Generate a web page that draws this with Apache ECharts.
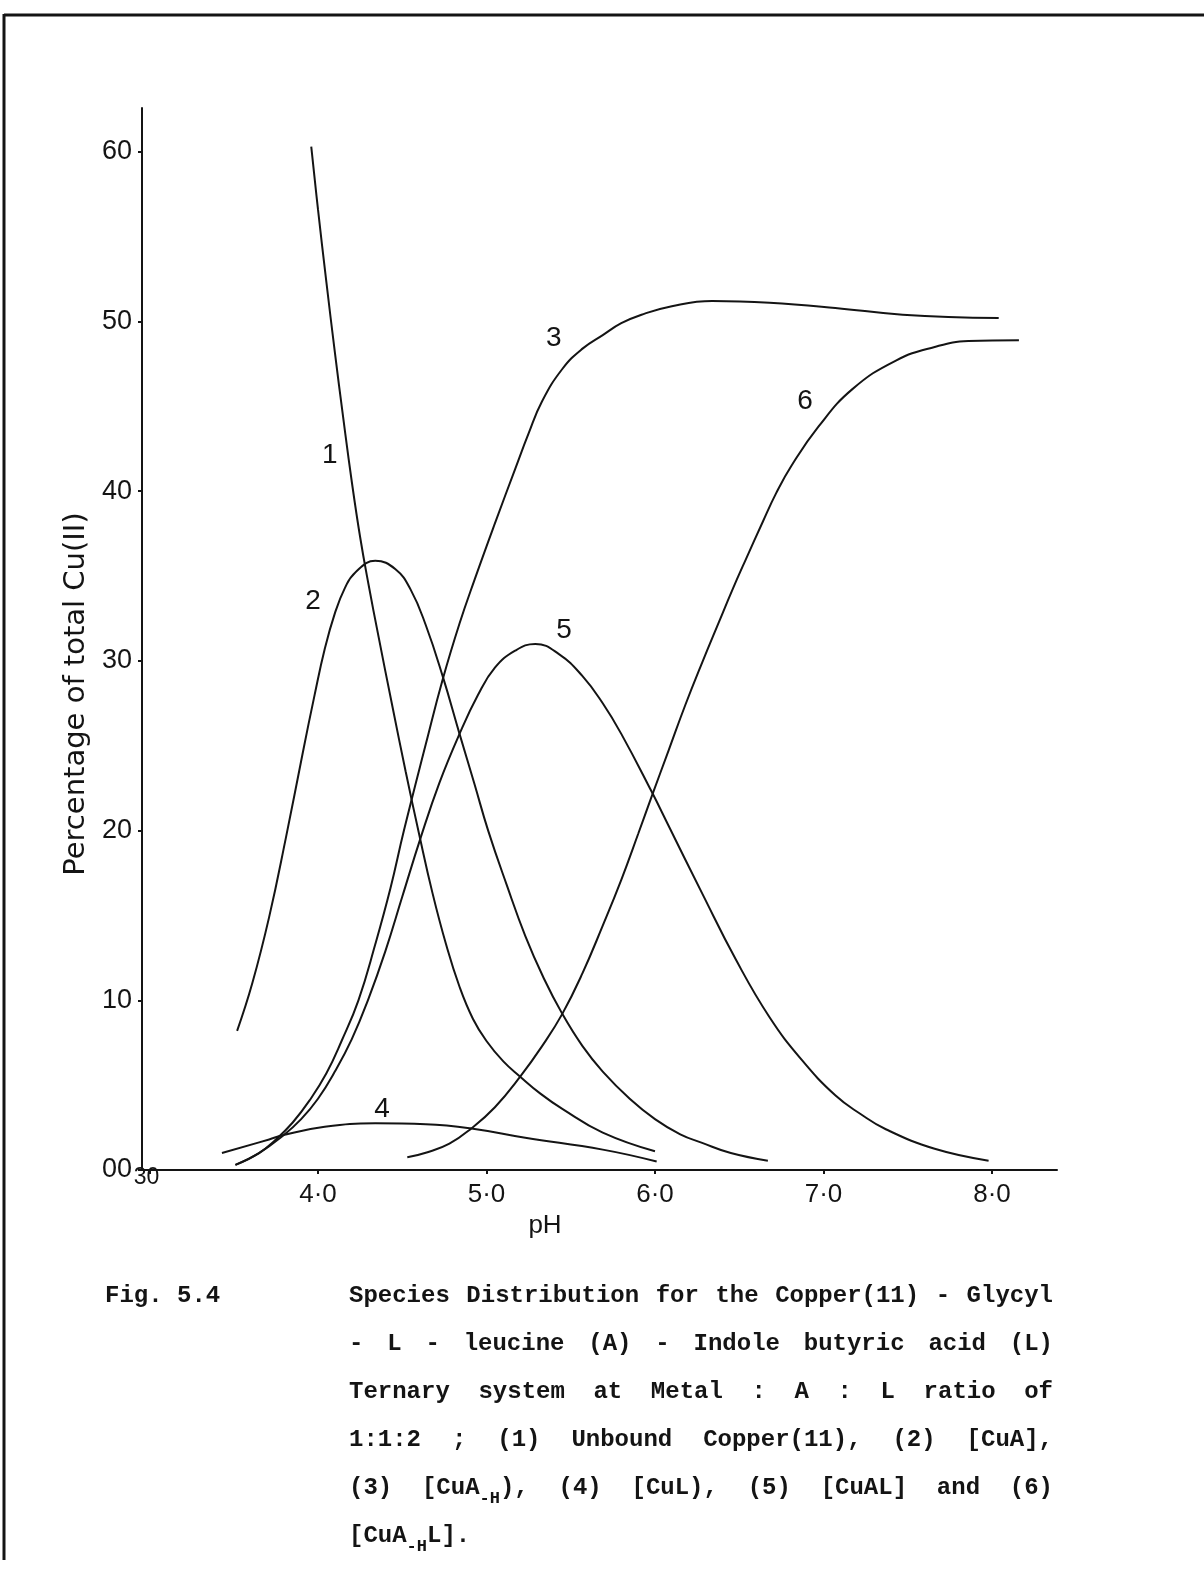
<!DOCTYPE html>
<html>
<head>
<meta charset="utf-8">
<title>Species distribution Cu(II) - Glycyl-L-leucine - Indole butyric acid</title>
<script src="https://cdn.jsdelivr.net/npm/echarts@6/dist/echarts.min.js"></script>
<style>
  html, body { margin: 0; padding: 0; background: #fff; }
  #main { width: 1204px; height: 1581px; }
</style>
</head>
<body>
<div id="main"></div>
<script>
// values: [pH, % of total Cu(II)]
var curve1 = [[3.96,60.3],[4.00,56.6],[4.05,52.3],[4.10,48.2],[4.15,44.3],[4.20,40.6],[4.25,37.3],
  [4.30,34.5],[4.36,31.4],[4.44,27.4],[4.52,23.5],[4.60,19.8],[4.68,16.3],[4.76,13.3],[4.84,10.8],
  [4.92,8.9],[5.00,7.6],[5.10,6.4],[5.20,5.5],[5.32,4.5],[5.45,3.6],[5.69,2.2],[6.00,1.1]];
var curve2 = [[3.52,8.2],[3.61,11.0],[3.71,14.9],[3.81,19.6],[3.91,24.6],[3.98,28.0],[4.04,30.7],
  [4.10,32.8],[4.16,34.3],[4.22,35.2],[4.34,35.9],[4.46,35.4],[4.55,34.2],[4.64,32.1],[4.74,29.1],
  [4.84,25.7],[4.93,22.7],[5.01,20.0],[5.12,16.8],[5.23,13.8],[5.34,11.3],[5.45,9.2],[5.57,7.3],
  [5.69,5.8],[5.85,4.2],[6.00,3.0],[6.15,2.1],[6.28,1.6],[6.45,1.0],[6.67,0.55]];
var curve3 = [[3.51,0.3],[3.65,1.0],[3.75,1.8],[3.85,2.8],[3.95,4.1],[4.05,5.7],[4.14,7.6],[4.24,10.0],
  [4.34,13.3],[4.43,16.6],[4.51,20.0],[4.64,25.1],[4.74,28.9],[4.84,32.2],[4.93,34.8],[5.05,38.1],
  [5.17,41.3],[5.25,43.4],[5.33,45.3],[5.45,47.2],[5.57,48.4],[5.69,49.2],[5.80,49.9],[5.92,50.4],
  [6.10,50.9],[6.34,51.2],[6.68,51.1],[7.07,50.8],[7.47,50.4],[8.04,50.2]];
var curve4 = [[3.43,1.0],[3.71,1.8],[3.79,2.05],[4.04,2.55],[4.34,2.75],[4.64,2.7],[4.91,2.45],
  [5.23,1.9],[5.69,1.2],[6.01,0.5]];
var curve5 = [[3.51,0.3],[3.65,1.0],[3.79,2.0],[3.90,3.0],[4.00,4.2],[4.10,5.8],[4.20,7.7],[4.30,10.1],
  [4.40,12.9],[4.50,16.1],[4.61,19.6],[4.72,22.8],[4.84,25.7],[4.95,28.0],[5.05,29.6],[5.17,30.6],
  [5.29,31.0],[5.43,30.4],[5.57,29.1],[5.69,27.5],[5.80,25.7],[5.98,22.3],[6.08,20.3],[6.28,16.3],
  [6.48,12.4],[6.68,9.0],[6.87,6.5],[7.07,4.4],[7.22,3.3],[7.37,2.4],[7.66,1.25],[7.98,0.55]];
var curve6 = [[4.53,0.75],[4.65,1.05],[4.78,1.55],[4.91,2.45],[5.05,3.7],[5.20,5.5],[5.33,7.3],
  [5.45,9.2],[5.57,11.6],[5.69,14.4],[5.80,17.1],[5.90,19.8],[5.98,22.0],[6.08,24.7],[6.18,27.4],
  [6.28,29.9],[6.38,32.3],[6.46,34.2],[6.54,36.0],[6.64,38.2],[6.72,39.9],[6.81,41.5],[6.97,43.8],
  [7.17,46.0],[7.43,47.7],[7.66,48.5],[7.86,48.85],[8.16,48.9]];

// curve numbers, placed in data coordinates
var curveLabels = [[4.07,42.1,'1'],[3.97,33.5,'2'],[5.40,49.0,'3'],[4.38,3.6,'4'],[5.46,31.8,'5'],[6.89,45.3,'6']];

var xTicks = [3, 4, 5, 6, 7, 8];
var yTicks = [0, 10, 20, 30, 40, 50, 60];

var figLabel = 'Fig. 5.4';
// _{...} marks a subscript
var captionLines = [
  ['Species','Distribution','for','the','Copper(11)','-','Glycyl'],
  ['-','L','-','leucine','(A)','-','Indole','butyric','acid','(L)'],
  ['Ternary','system','at','Metal',':','A',':','L','ratio','of'],
  ['1:1:2',';','(1)','Unbound','Copper(11),','(2)','[CuA],'],
  ['(3)','[CuA_{-H}),','(4)','[CuL),','(5)','[CuAL]','and','(6)'],
  ['[CuA_{-H}L].']
];

var ink = '#141414';
var myChart = echarts.init(document.getElementById('main'));

function lineSeries(d) {
  return {
    type: 'line', data: d, smooth: 0.45, showSymbol: false, silent: true,
    lineStyle: { color: ink, width: 2 }
  };
}

// caption, justified like the typed original
var monoFont = 'Liberation Mono, DejaVu Sans Mono, monospace';
var fs = 24, cw = fs * 0.6, fsSub = 17, cwSub = fsSub * 0.6;
var capLeft = 349, capRight = 1053, capTop = 1296, capStep = 48;

function parseWord(w) {
  var segs = [], re = /_\{(.*?)\}/g, last = 0, m;
  while ((m = re.exec(w)) !== null) {
    if (m.index > last) segs.push({ t: w.slice(last, m.index), sub: false });
    segs.push({ t: m[1], sub: true });
    last = re.lastIndex;
  }
  if (last < w.length) segs.push({ t: w.slice(last), sub: false });
  return segs;
}
function segWidth(s) { return s.t.length * (s.sub ? cwSub : cw); }

var graphics = [
  { type: 'line', shape: { x1: 4, y1: 15, x2: 1204, y2: 15 }, style: { stroke: ink, lineWidth: 3 } },
  { type: 'line', shape: { x1: 4, y1: 14, x2: 4, y2: 1560 }, style: { stroke: ink, lineWidth: 3 } },
  { type: 'text', x: 105, y: capTop, style: { text: figLabel, font: 'bold ' + fs + 'px ' + monoFont, fill: ink, verticalAlign: 'middle' } }
];

captionLines.forEach(function (words, li) {
  var parsed = words.map(parseWord);
  var widths = parsed.map(function (segs) { return segs.reduce(function (a, s) { return a + segWidth(s); }, 0); });
  var total = widths.reduce(function (a, b) { return a + b; }, 0);
  var last = li === captionLines.length - 1;
  var gap = (last || words.length < 2) ? cw : (capRight - capLeft - total) / (words.length - 1);
  var x = capLeft, y = capTop + li * capStep;
  parsed.forEach(function (segs) {
    segs.forEach(function (s) {
      graphics.push({
        type: 'text', x: x, y: s.sub ? y + 11 : y,
        style: { text: s.t, font: 'bold ' + (s.sub ? fsSub : fs) + 'px ' + monoFont, fill: ink, verticalAlign: 'middle' }
      });
      x += segWidth(s);
    });
    x += gap;
  });
});

var option = {
  animation: false,
  backgroundColor: '#fff',
  grid: { left: 142, right: 147, top: 108, bottom: 411 },
  xAxis: {
    type: 'value', min: 2.9555, max: 8.386,
    name: 'pH', nameLocation: 'middle', nameGap: 32,
    nameTextStyle: { fontFamily: 'Liberation Sans', fontSize: 26, color: ink, padding: [0, 109, 0, 0] },
    axisLine: { lineStyle: { color: ink, width: 2 } },
    axisTick: { show: true, customValues: xTicks, length: 4, lineStyle: { color: ink, width: 2 } },
    axisLabel: {
      customValues: xTicks, margin: 12, fontFamily: 'Liberation Sans', fontSize: 26, color: ink,
      formatter: function (v) { return v === 3 ? '' : (v + '\u00b70'); }
    },
    splitLine: { show: false }
  },
  yAxis: {
    type: 'value', min: 0, max: 62.58,
    name: 'Percentage of total Cu(II)', nameLocation: 'middle', nameGap: 50, nameRotate: 90,
    nameTextStyle: { fontFamily: 'DejaVu Sans', fontSize: 29, color: ink, padding: [0, 110, 0, 0] },
    axisLine: { lineStyle: { color: ink, width: 2 } },
    axisTick: { show: true, customValues: yTicks, length: 4, lineStyle: { color: ink, width: 2 } },
    axisLabel: {
      customValues: yTicks, margin: 10, fontFamily: 'Liberation Sans', fontSize: 27, color: ink,
      formatter: function (v) { return v === 0 ? '00' : String(v); }
    },
    splitLine: { show: false }
  },
  series: [
    lineSeries(curve1), lineSeries(curve2), lineSeries(curve3),
    lineSeries(curve4), lineSeries(curve5), lineSeries(curve6),
    {
      type: 'scatter', data: curveLabels, symbolSize: 0, silent: true,
      itemStyle: { opacity: 1, color: ink },
      label: {
        show: true, position: 'inside', fontFamily: 'Liberation Sans', fontSize: 28, color: ink,
        formatter: function (p) { return p.value[2]; }
      }
    }
  ],
  graphic: graphics
};

myChart.setOption(option);

// the "30" at the origin sits apart from the other pH labels
var p3 = myChart.convertToPixel({ xAxisIndex: 0, yAxisIndex: 0 }, [3, 0]);
graphics.push({
  type: 'text', x: p3[0] - 3, y: p3[1] + 8,
  style: { text: '30', font: '23px Liberation Sans', fill: ink, align: 'center', verticalAlign: 'middle' }
});
myChart.setOption({ graphic: graphics });

window.onresize = function () { myChart.resize(); };
</script>
</body>
</html>
